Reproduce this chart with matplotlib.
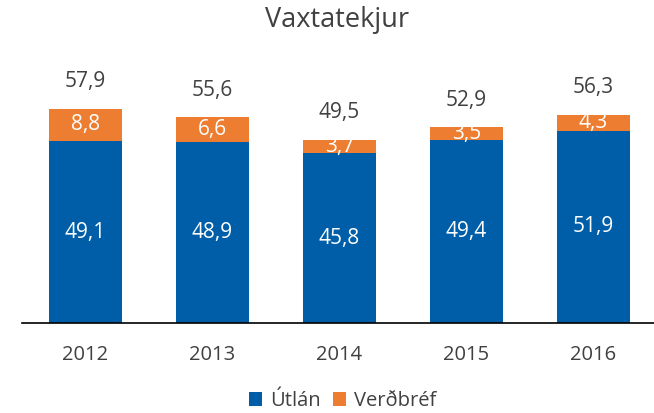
import matplotlib.pyplot as plt
import numpy as np

plt.rcParams['font.family'] = ['Open Sans', 'DejaVu Sans']

years = ['2012', '2013', '2014', '2015', '2016']
utlan = [49.1, 48.9, 45.8, 49.4, 51.9]
verdbref = [8.8, 6.6, 3.7, 3.5, 4.3]
totals = [57.9, 55.6, 49.5, 52.9, 56.3]

blue = '#005EA8'
orange = '#ED7D31'

fig = plt.figure(figsize=(6.54, 4.13), dpi=100)
ax = fig.add_axes([22 / 654, 90 / 413, 635 / 654, 263 / 413])

x = np.arange(len(years))
w = 0.57
ax.bar(x, utlan, w, color=blue, label='Útlán')
ax.bar(x, verdbref, w, bottom=utlan, color=orange, label='Verðbréf')

def fmt(v):
    return f"{v:.1f}".replace('.', ',')

for i in range(len(years)):
    ax.text(x[i], utlan[i] / 2, fmt(utlan[i]), ha='center', va='center',
            color='white', fontsize=15)
    ax.text(x[i], utlan[i] + verdbref[i] / 2, fmt(verdbref[i]), ha='center',
            va='center', color='white', fontsize=15)
    ax.annotate(fmt(totals[i]), (x[i], totals[i]), xytext=(0, 27),
                textcoords='offset pixels', ha='center', va='center',
                color='#404040', fontsize=15)

ax.set_xlim(-0.5, 4.5)
ax.set_ylim(0, 71)
ax.set_xticks(x)
ax.set_xticklabels(years, fontsize=14.5, color='#404040')
ax.tick_params(axis='x', length=0, pad=16)
ax.set_yticks([])
for s in ['top', 'right', 'left']:
    ax.spines[s].set_visible(False)
ax.spines['bottom'].set_color('black')
ax.spines['bottom'].set_linewidth(1.2)

fig.text(337 / 654, 1 - 20 / 413, 'Vaxtatekjur', ha='center', va='center',
         fontsize=19.5, color='#404040')

fig.legend(loc='center', bbox_to_anchor=(343 / 654, 1 - 401 / 413), ncol=2,
           frameon=False, fontsize=14.5, handlelength=0.65, handleheight=0.65,
           handletextpad=0.4, columnspacing=0.6, labelcolor='#404040')

plt.savefig('out.png')
